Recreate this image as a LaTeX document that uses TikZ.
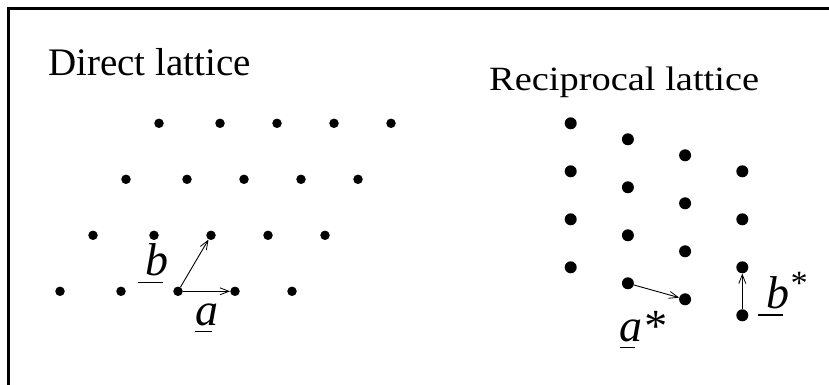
\documentclass[tikz,border=0pt]{standalone}
\usepackage{fontspec}
\setmainfont{Liberation Serif}
\usetikzlibrary{arrows.meta}
\begin{document}
\begin{tikzpicture}[x=1pt,y=-1pt,
  dsite/.style={circle,fill=black,inner sep=0pt,minimum size=9.5pt},
  rsite/.style={circle,fill=black,inner sep=0pt,minimum size=12pt},
  basis/.style={line width=0.9pt,-{Straight Barb[length=9pt,width=7pt,line width=0.8pt]}},
  title/.style={inner sep=0pt,anchor=base west},
  vlabel/.style={inner sep=0pt,anchor=base west,font=\fontsize{46}{46}\selectfont\itshape},
  uline/.style={line width=1.5pt}]
\useasboundingbox (0,0) rectangle (829,385);
% frame
\draw[line width=3pt] (8.5,400) -- (8.5,8.5) -- (840,8.5);

% titles
\node[title,font=\fontsize{39}{39}\selectfont] (tdirect) at (48,76) {Direct lattice};
\node[title,xscale=1.13,font=\fontsize{34}{34}\selectfont] (trecip) at (489,91) {Reciprocal lattice};

% direct lattice: four rows of five sites
\foreach \r in {1,...,4}{
  \foreach \c/\dx in {1/0,2/61,3/118,4/175,5/232}{
    \node[dsite] (d-\r-\c) at ({159-33*(\r-1)+\dx},{123.3+56*(\r-1)}) {};
  }
}
% reciprocal lattice: four columns of four sites
\foreach \c in {0,...,3}{
  \foreach \k in {0,...,3}{
    \node[rsite] (r-\c-\k) at ({570.7+57.2*\c},{123.3+16*\c+48*\k}) {};
  }
}

% basis vectors
\draw[basis] (d-4-3) -- (d-4-4);
\draw[basis] (d-4-3) -- (d-3-3);
\draw[basis] (r-1-3) -- (r-2-3);
\draw[basis] (r-3-3) -- (r-3-2);

% vector labels
\node[vlabel] (la) at (195,325) {a};
\draw[uline] (195,331.7) -- (211.7,331.7);
\node[vlabel] (lb) at (145,275) {b};
\draw[uline] (138.3,282.7) -- (163.3,282.7);
\node[vlabel] (las) at (619,341.7) {a*};
\draw[uline] (620,347.7) -- (635,347.7);
\node[vlabel] (lbs) at (766,308.3) {b\raisebox{14pt}{\fontsize{34}{34}\selectfont *}};
\draw[uline] (758.3,315) -- (782.7,315);
\end{tikzpicture}
\end{document}
